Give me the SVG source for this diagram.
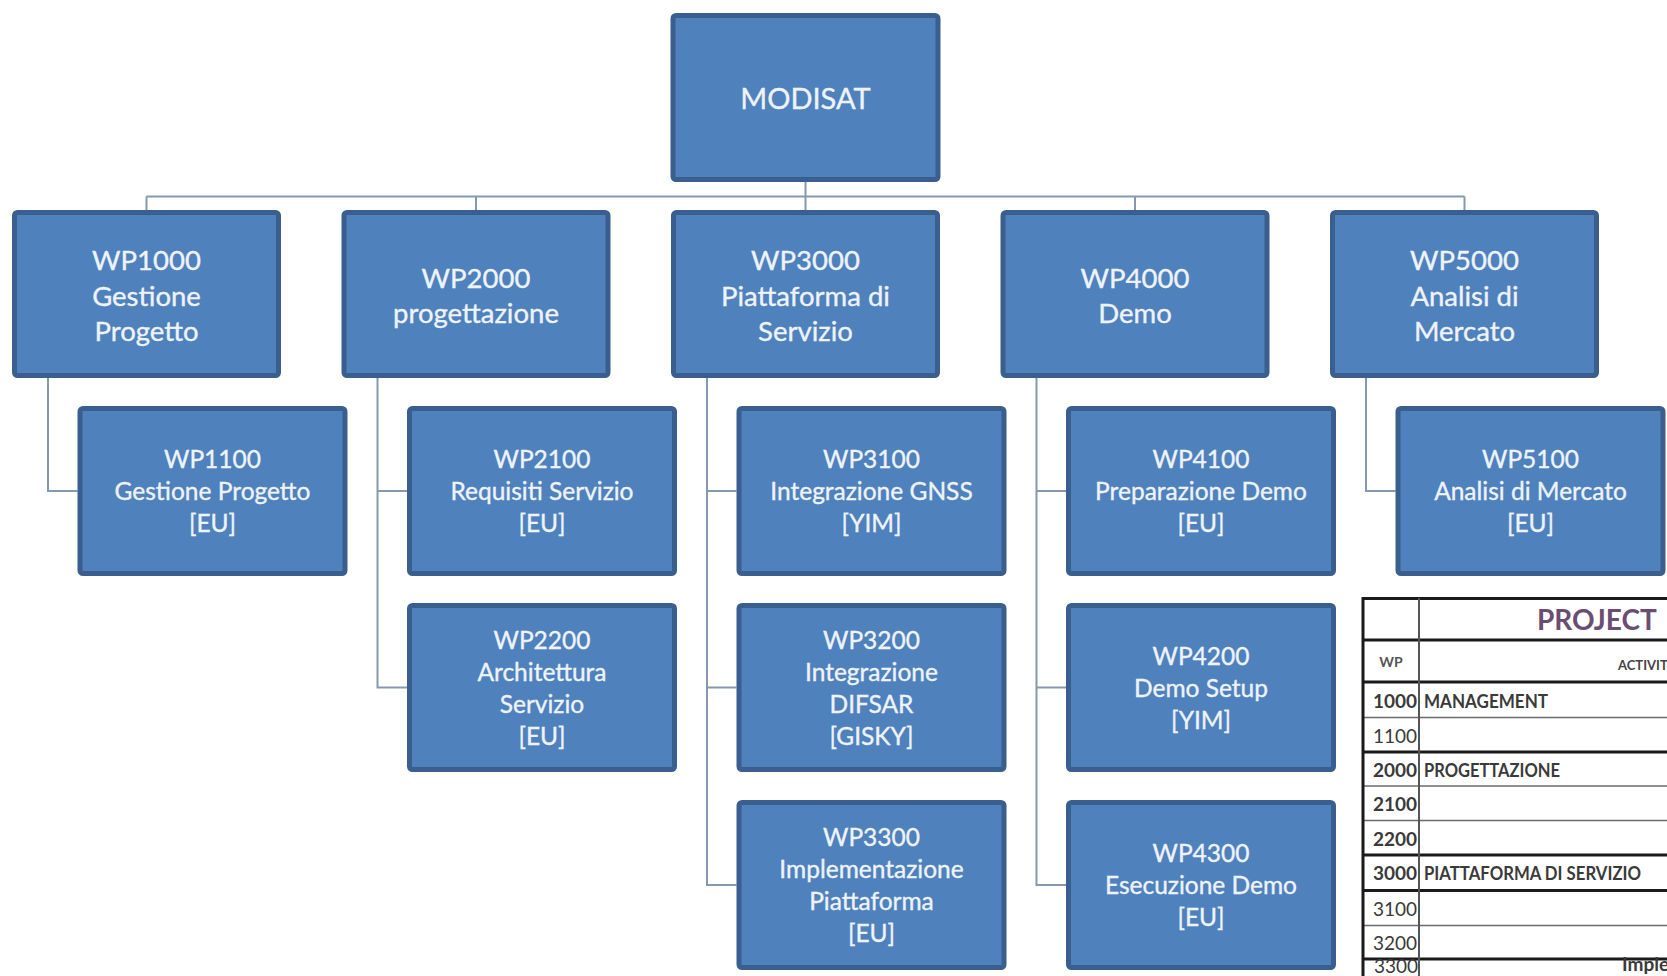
<svg xmlns="http://www.w3.org/2000/svg" width="1667" height="976" viewBox="0 0 1667 976">
  <style>
    .box { fill: #4f81bd; stroke: #3a5f8e; stroke-width: 5; }
    .t0, .t1, .t2 { font-family: Lato, "Liberation Sans", sans-serif; fill: #eef3f9; stroke: #eef3f9; stroke-width: 0.35; text-anchor: middle; }
    .t0 { font-size: 29px; }
    .t1 { font-size: 27.5px; }
    .t2 { font-size: 24.5px; }
    .link { fill: none; stroke: #8499b0; stroke-width: 2; }
    .thick { stroke: #1a1a1a; stroke-width: 3; }
    .thin { stroke: #6a6a6a; stroke-width: 1.6; }
    .cell { font-family: Lato, "Liberation Sans", sans-serif; font-size: 19px; fill: #3a3a3a; }
    .lbl { font-family: Lato, "Liberation Sans", sans-serif; font-size: 19.5px; font-weight: bold; fill: #3a3a3a; }
    .b { font-weight: bold; }
  </style>

  <rect width="1667" height="976" fill="#ffffff"/>

  <!-- tree connectors -->
  <g id="connectors">
    <path class="link" d="M805.5 182 V196.5 M146.5 196.5 H1464.5 M146.5 196.5 V210 M476 196.5 V210 M805.5 196.5 V210 M1135 196.5 V210 M1464.5 196.5 V210"/>
    <path class="link" d="M48 378 V491 H77.5"/>
    <path class="link" d="M377.5 378 V687.5 H407 M377.5 491 H407"/>
    <path class="link" d="M707 378 V885 H736.5 M707 491 H736.5 M707 687.5 H736.5"/>
    <path class="link" d="M1036.5 378 V885 H1066 M1036.5 491 H1066 M1036.5 687.5 H1066"/>
    <path class="link" d="M1366 378 V491 H1395.5"/>
  </g>

  <!-- root -->
  <g id="modisat">
    <rect class="box" x="673" y="15.5" width="265" height="164" rx="3"/>
    <text class="t0" x="805.5" y="109">MODISAT</text>
  </g>

  <!-- first level work packages -->
  <g id="wp1000">
    <rect class="box" x="14.5" y="212.5" width="264" height="163" rx="3"/>
    <text class="t1" x="146.5" y="270">WP1000</text>
    <text class="t1" x="146.5" y="305.5">Gestione</text>
    <text class="t1" x="146.5" y="341">Progetto</text>
  </g>
  <g id="wp2000">
    <rect class="box" x="344" y="212.5" width="264" height="163" rx="3"/>
    <text class="t1" x="476" y="287.5">WP2000</text>
    <text class="t1" x="476" y="323">progettazione</text>
  </g>
  <g id="wp3000">
    <rect class="box" x="673.5" y="212.5" width="264" height="163" rx="3"/>
    <text class="t1" x="805.5" y="270">WP3000</text>
    <text class="t1" x="805.5" y="305.5">Piattaforma di</text>
    <text class="t1" x="805.5" y="341">Servizio</text>
  </g>
  <g id="wp4000">
    <rect class="box" x="1003" y="212.5" width="264" height="163" rx="3"/>
    <text class="t1" x="1135" y="287.5">WP4000</text>
    <text class="t1" x="1135" y="323">Demo</text>
  </g>
  <g id="wp5000">
    <rect class="box" x="1332.5" y="212.5" width="264" height="163" rx="3"/>
    <text class="t1" x="1464.5" y="270">WP5000</text>
    <text class="t1" x="1464.5" y="305.5">Analisi di</text>
    <text class="t1" x="1464.5" y="341">Mercato</text>
  </g>

  <!-- second level work packages -->
  <g id="wp1100">
    <rect class="box" x="80" y="408.5" width="265" height="165" rx="3"/>
    <text class="t2" x="212.5" y="468">WP1100</text>
    <text class="t2" x="212.5" y="500">Gestione Progetto</text>
    <text class="t2" x="212.5" y="532">[EU]</text>
  </g>
  <g id="wp2100">
    <rect class="box" x="409.5" y="408.5" width="265" height="165" rx="3"/>
    <text class="t2" x="542" y="468">WP2100</text>
    <text class="t2" x="542" y="500">Requisiti Servizio</text>
    <text class="t2" x="542" y="532">[EU]</text>
  </g>
  <g id="wp2200">
    <rect class="box" x="409.5" y="605.5" width="265" height="164" rx="3"/>
    <text class="t2" x="542" y="648.5">WP2200</text>
    <text class="t2" x="542" y="680.5">Architettura</text>
    <text class="t2" x="542" y="712.5">Servizio</text>
    <text class="t2" x="542" y="744.5">[EU]</text>
  </g>
  <g id="wp3100">
    <rect class="box" x="739" y="408.5" width="265" height="165" rx="3"/>
    <text class="t2" x="871.5" y="468">WP3100</text>
    <text class="t2" x="871.5" y="500">Integrazione GNSS</text>
    <text class="t2" x="871.5" y="532">[YIM]</text>
  </g>
  <g id="wp3200">
    <rect class="box" x="739" y="605.5" width="265" height="164" rx="3"/>
    <text class="t2" x="871.5" y="648.5">WP3200</text>
    <text class="t2" x="871.5" y="680.5">Integrazione</text>
    <text class="t2" x="871.5" y="712.5">DIFSAR</text>
    <text class="t2" x="871.5" y="744.5">[GISKY]</text>
  </g>
  <g id="wp3300">
    <rect class="box" x="739" y="802.5" width="265" height="165" rx="3"/>
    <text class="t2" x="871.5" y="846">WP3300</text>
    <text class="t2" x="871.5" y="878">Implementazione</text>
    <text class="t2" x="871.5" y="910">Piattaforma</text>
    <text class="t2" x="871.5" y="942">[EU]</text>
  </g>
  <g id="wp4100">
    <rect class="box" x="1068.5" y="408.5" width="265" height="165" rx="3"/>
    <text class="t2" x="1201" y="468">WP4100</text>
    <text class="t2" x="1201" y="500">Preparazione Demo</text>
    <text class="t2" x="1201" y="532">[EU]</text>
  </g>
  <g id="wp4200">
    <rect class="box" x="1068.5" y="605.5" width="265" height="164" rx="3"/>
    <text class="t2" x="1201" y="664.5">WP4200</text>
    <text class="t2" x="1201" y="696.5">Demo Setup</text>
    <text class="t2" x="1201" y="728.5">[YIM]</text>
  </g>
  <g id="wp4300">
    <rect class="box" x="1068.5" y="802.5" width="265" height="165" rx="3"/>
    <text class="t2" x="1201" y="862">WP4300</text>
    <text class="t2" x="1201" y="894">Esecuzione Demo</text>
    <text class="t2" x="1201" y="926">[EU]</text>
  </g>
  <g id="wp5100">
    <rect class="box" x="1398" y="408.5" width="265" height="165" rx="3"/>
    <text class="t2" x="1530.5" y="468">WP5100</text>
    <text class="t2" x="1530.5" y="500">Analisi di Mercato</text>
    <text class="t2" x="1530.5" y="532">[EU]</text>
  </g>

  <!-- project overview table -->
  <g id="project-table">
    <rect x="1362" y="598" width="320" height="400" fill="#ffffff"/>
    <line class="thick" x1="1362" y1="598.5" x2="1667" y2="598.5"/>
    <line class="thick" x1="1362" y1="640" x2="1667" y2="640"/>
    <line class="thick" x1="1362" y1="682" x2="1667" y2="682"/>
    <line class="thin" x1="1362" y1="717.5" x2="1667" y2="717.5"/>
    <line class="thick" x1="1362" y1="752" x2="1667" y2="752"/>
    <line class="thin" x1="1362" y1="786" x2="1667" y2="786"/>
    <line class="thin" x1="1362" y1="820.5" x2="1667" y2="820.5"/>
    <line class="thick" x1="1362" y1="855" x2="1667" y2="855"/>
    <line class="thick" x1="1362" y1="890.5" x2="1667" y2="890.5"/>
    <line class="thin" x1="1362" y1="925.5" x2="1667" y2="925.5"/>
    <line class="thick" x1="1362" y1="959" x2="1667" y2="959"/>
    <line class="thick" x1="1363" y1="597" x2="1363" y2="976"/>
    <line x1="1419" y1="598" x2="1419" y2="976" stroke="#555555" stroke-width="2"/>

    <text x="1537" y="630" font-family="Lato, 'Liberation Sans', sans-serif" font-size="28" font-weight="bold" fill="#6b4d73">PROJECT</text>
    <text x="1391" y="667" text-anchor="middle" font-family="Lato, 'Liberation Sans', sans-serif" font-size="14" font-weight="bold" fill="#555555">WP</text>
    <text x="1618" y="670" font-family="Lato, 'Liberation Sans', sans-serif" font-size="13" font-weight="bold" fill="#444444">ACTIVIT</text>

    <text class="cell b" x="1373" y="708">1000</text>
    <text class="lbl" x="1424" y="708" textLength="124" lengthAdjust="spacingAndGlyphs">MANAGEMENT</text>
    <text class="cell" x="1373" y="743">1100</text>
    <text class="cell b" x="1373" y="777">2000</text>
    <text class="lbl" x="1424" y="777" textLength="136" lengthAdjust="spacingAndGlyphs">PROGETTAZIONE</text>
    <text class="cell b" x="1373" y="811">2100</text>
    <text class="cell b" x="1373" y="846">2200</text>
    <text class="cell b" x="1373" y="880">3000</text>
    <text class="lbl" x="1424" y="880" font-size="16" textLength="217" lengthAdjust="spacingAndGlyphs">PIATTAFORMA DI SERVIZIO</text>
    <text class="cell" x="1373" y="916">3100</text>
    <text class="cell" x="1373" y="950">3200</text>
    <text class="cell" x="1374" y="973" font-size="17">3300</text>
    <text class="cell b" x="1622" y="971" font-size="16">Imple</text>
  </g>
</svg>
